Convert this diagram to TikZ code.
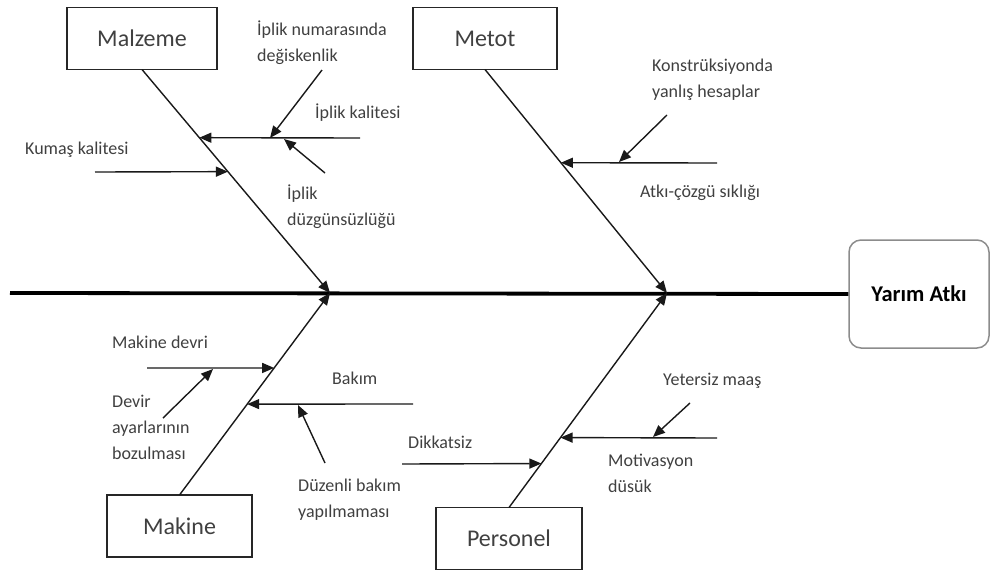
\documentclass[tikz,border=0pt]{standalone}
\usepackage{fontspec}
\setmainfont{Carlito}
\usetikzlibrary{arrows.meta,calc}

\begin{document}
\begin{tikzpicture}[x=1pt, y=-1pt,
    cat/.style={rectangle, draw=black!85, line width=1.2pt, minimum height=62pt,
                outer sep=0pt, text=black!75, font=\fontsize{24}{28}\selectfont},
    effect/.style={rectangle, rounded corners=12pt, draw=black!45, line width=1.5pt,
                   minimum width=140pt, minimum height=108pt,
                   font=\bfseries\fontsize{22.5}{26}\selectfont},
    cause/.style={anchor=west, align=left, inner sep=0pt, text=black!75,
                  font=\fontsize{18}{26}\selectfont},
    bone/.style={line width=1.4pt, draw=black!90, -{Triangle[length=12pt,width=10pt]}},
    twig/.style={line width=1.4pt, draw=black!90, -{Triangle[length=12pt,width=10pt]}}
]
\useasboundingbox (0,0) rectangle (990,571);

\node[effect] (etki) at (919,294) {Yarım Atkı};

\node[cat, minimum width=150pt] (malzeme) at (142,38.5) {Malzeme};
\node[cat, minimum width=144pt] (metot) at (485,38.5) {Metot};
\node[cat, minimum width=145pt] (makine) at (179.5,526) {Makine};
\node[cat, minimum width=146pt] (personel) at (509,538.5) {Personel};

\coordinate (bas) at (10,293);
\coordinate (h1) at (330,293);
\coordinate (h2) at (667,293);

\draw[line width=3.8pt] (bas) -- (etki.west);

\draw[bone] (malzeme.south) -- (h1);
\draw[bone] (metot.south) -- (h2);
\draw[bone] (makine.north) -- (h1);
\draw[bone] (personel.north) -- (h2);

% points on the bones
\coordinate (m1) at ($(malzeme.south)!0.305!(h1)$);
\coordinate (m2) at ($(malzeme.south)!0.457!(h1)$);
\coordinate (t1) at ($(metot.south)!0.417!(h2)$);
\coordinate (k1) at ($(makine.north)!0.629!(h1)$);
\coordinate (k2) at ($(makine.north)!0.45!(h1)$);
\coordinate (p1) at ($(personel.north)!0.205!(h2)$);
\coordinate (p2) at ($(personel.north)!0.326!(h2)$);

% Malzeme
\coordinate (ik) at (360,138);
\coordinate (ik1) at (270,138);
\coordinate (ik2) at (284,139);
\coordinate (kk) at (95,172);
\coordinate (nu) at (322,70);
\coordinate (dz) at (325,173);
\draw[twig] (ik) -- (m1);
\draw[twig] (kk) -- (m2);
\draw[twig] (nu) -- (ik1);
\draw[twig] (dz) -- (ik2);

% Metot
\coordinate (ah) at (717,163);
\coordinate (ah1) at (619,162);
\coordinate (ks) at (667,115);
\draw[twig] (ah) -- (t1);
\draw[twig] (ks) -- (ah1);

% Makine
\coordinate (md) at (147,368);
\coordinate (md1) at (213,369);
\coordinate (dv) at (163,418);
\coordinate (bk) at (413,404);
\coordinate (bk1) at (298,405);
\coordinate (db) at (325,463);
\draw[twig] (md) -- (k1);
\draw[twig] (dv) -- (md1);
\draw[twig] (bk) -- (k2);
\draw[twig] (db) -- (bk1);

% Personel
\coordinate (dk) at (402,464);
\coordinate (mv) at (717,438);
\coordinate (mv1) at (653,437);
\coordinate (ym) at (690,403);
\draw[twig] (dk) -- (p1);
\draw[twig] (mv) -- (p2);
\draw[twig] (ym) -- (mv1);

\node[cause] (kumas) at (25,150) {Kumaş kalitesi};
\node[cause] (numara) at (257,42.5) {İplik numarasında\\değiskenlik};
\node[cause] (kalite) at (315,113) {İplik kalitesi};
\node[cause] (duzgun) at (287,206.5) {İplik\\düzgünsüzlüğü};
\node[cause] (konst) at (652,80) {Konstrüksiyonda\\yanlış hesaplar};
\node[cause] (siklik) at (640,193) {Atkı-çözgü sıklığı};
\node[cause] (devri) at (112,342) {Makine devri};
\node[cause] (ayar) at (112,427) {Devir\\ayarlarının\\bozulması};
\node[cause] (bakim) at (332,378) {Bakım};
\node[cause] (duzenli) at (298,499.5) {Düzenli bakım\\yapılmaması};
\node[cause] (dikkat) at (408,442) {Dikkatsiz};
\node[cause] (motiv) at (608,473.5) {Motivasyon\\düsük};
\node[cause] (maas) at (663,381) {Yetersiz maaş};

\end{tikzpicture}
\end{document}
